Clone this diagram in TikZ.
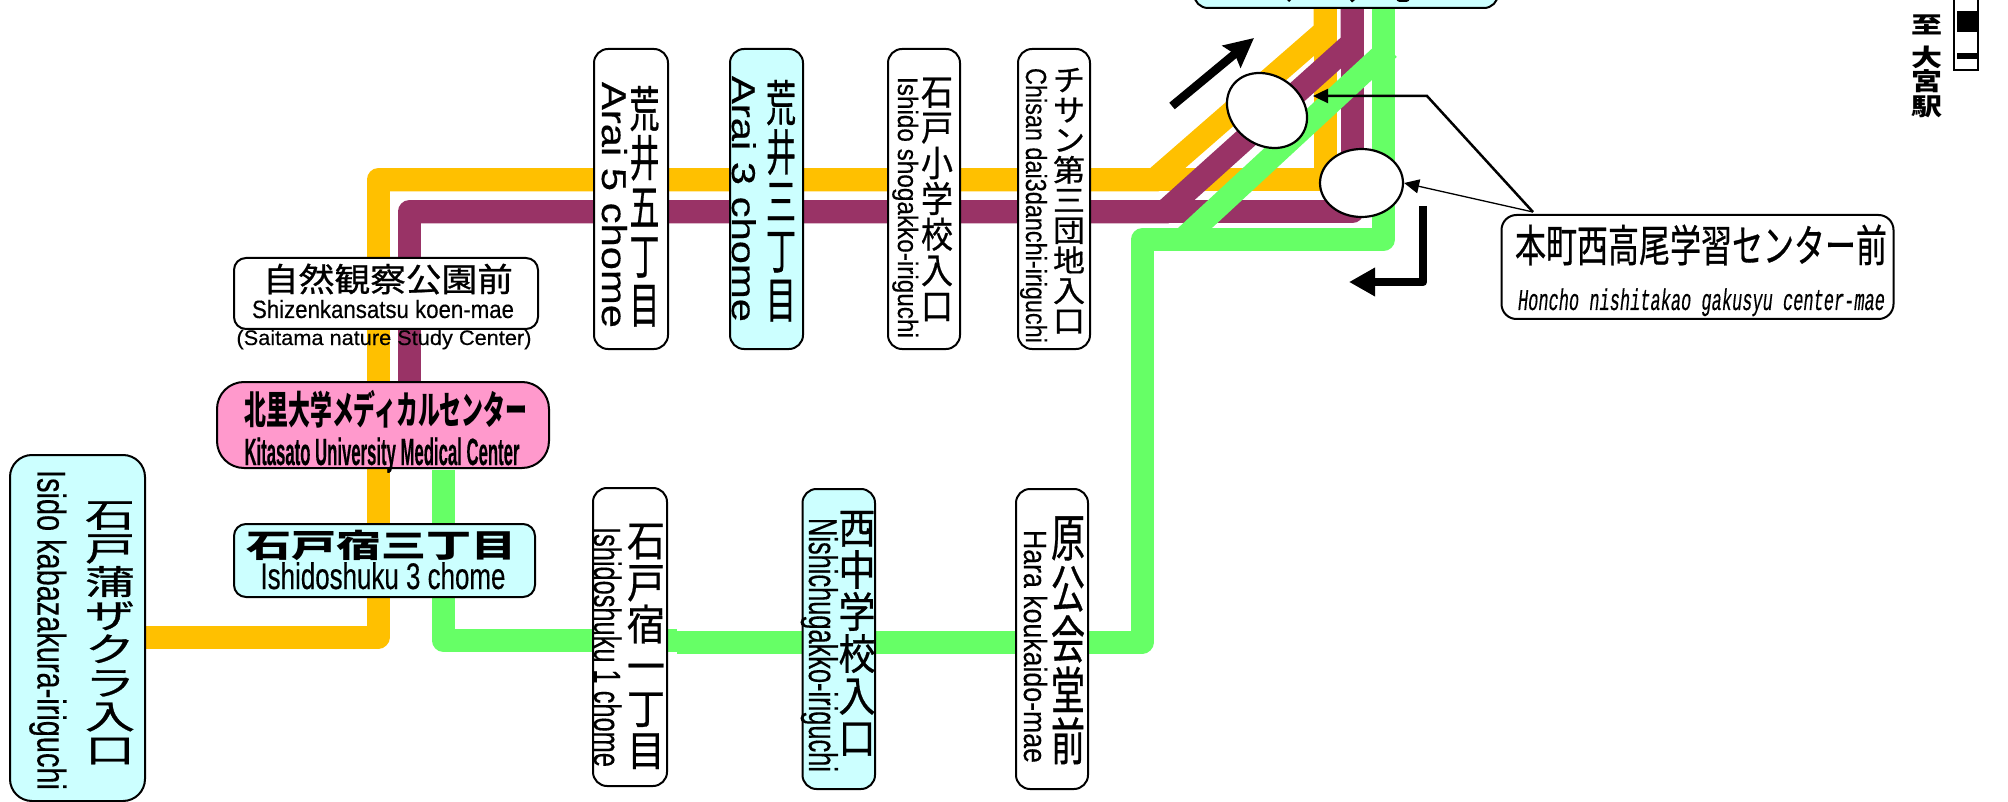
\documentclass[tikz,border=0pt]{standalone}
\usepackage{graphicx}
\usepackage{fontspec}
\setmainfont{Liberation Sans}[FakeBold=0.35]
\setmonofont{Liberation Mono}[FakeBold=0.5]
\newfontfamily\jp{Noto Sans CJK JP}[FakeBold=0.7]
\newfontfamily\jpb{Noto Sans CJK JP}
\usetikzlibrary{arrows.meta,shapes.geometric}
\definecolor{cyanbox}{HTML}{CCFFFF}
\definecolor{pinkbox}{HTML}{FF99CC}
\definecolor{lineor}{HTML}{FFC000}
\definecolor{linepl}{HTML}{993366}
\definecolor{linegr}{HTML}{66FF66}
\newcommand{\fs}[1]{\fontsize{#1}{#1}\selectfont}
\newcommand{\hz}[3]{\resizebox{#1pt}{\height}{\fs{#2}#3}}
\newcommand{\vc}[1]{\hbox to 40pt{\hss\vrule height 35.2pt depth 4.8pt width 0pt #1\hss}}
\newcommand{\vjp}[3]{\resizebox*{#1pt}{#2pt}{\jp\fs{40}\vbox{\offinterlineskip #3}}}
\newcommand{\dest}[2]{\resizebox*{31pt}{#1pt}{\jpb\bfseries\fs{40}\vc{#2}}}
\tikzset{
 stopbox/.style={draw=black,line width=2pt,rounded corners=#1,inner sep=0pt,anchor=north west},
 stopbox/.default=12pt,
 route/.style={line width=23pt,line join=round},
 knee/.style={line width=23pt,line join=miter},
 lbl/.style={inner sep=0pt,align=center},
 baselbl/.style={inner sep=0pt,anchor=base},
 vlbl/.style={inner sep=0pt,anchor=base,rotate=-90},
 jpv/.style={inner sep=0pt},
 bigarrow/.style={line width=8.5pt},
 leader/.style={draw=black,-{Triangle[length=15pt,width=14pt]}},
 oval/.style={draw=black,line width=2.2pt,fill=white,ellipse,inner sep=0pt},
}
\begin{document}
\begin{tikzpicture}[x=1pt,y=-1pt]
\useasboundingbox (0,0) rectangle (2008,802);
% route way-points
\coordinate (oa) at (145,637);
\coordinate (ob) at (378,637);
\coordinate (oc) at (378,180);
\coordinate (od) at (1154,180);
\coordinate (oe) at (1325,31);
\coordinate (of) at (1325,180);
\coordinate (og) at (1325,-20);
\coordinate (pa) at (409,400);
\coordinate (pb) at (409,212);
\coordinate (pc) at (1164,212);
\coordinate (pd) at (1352,43);
\coordinate (pe) at (1352,212);
\coordinate (pf) at (1352,-20);
\coordinate (ga) at (443,470);
\coordinate (gb) at (443,640);
\coordinate (gc) at (677,640);
\coordinate (gd) at (677,642);
\coordinate (ge) at (1142,642);
\coordinate (gf) at (1142,240);
\coordinate (gg) at (1383,240);
\coordinate (gh) at (1383,-20);
\coordinate (gi) at (1182,240);
\coordinate (gj) at (1389,48.5);
% routes
\draw[route,lineor] (oa) -- (ob) -- (oc) -- (od);
\draw[knee,lineor] (oc) -- (od) -- (oe) -- (og);
\draw[route,lineor] (od) -- (of) -- (og);
\draw[route,linepl] (pa) -- (pb) -- (pe) -- (pf);
\draw[knee,linepl] (pb) -- (pc) -- (pd) -- (pf);
\draw[route,linegr] (ga) -- (gb) -- (gc);
\draw[route,linegr] (gd) -- (ge) -- (gf) -- (gg) -- (gh);
\draw[line width=23pt,linegr] (gi) -- (gj);
% top box, cut by the page edge
\node[stopbox=14pt,fill=cyanbox,minimum width=304pt,minimum height=40pt] (topbox) at (1193,-33) {};
\fill (1287,0) -- (1291,0) -- (1289,2) -- cycle;
\fill (1350,0) -- (1355,0) -- (1352,2.5) -- cycle;
\fill[rounded corners=1pt] (1396,0) -- (1410,0) -- (1407,2) -- (1399,2) -- cycle;
% horizontal stops
\node[stopbox=12pt,fill=white,minimum width=304pt,minimum height=71pt] (shizen) at (233,257) {};
\node[lbl] (shizenj) at (388,279) {\hz{250}{33}{\jp 自然観察公園前}};
\node[baselbl] (shizenl) at (383,318) {\hz{262}{25}{Shizenkansatsu koen-mae}};
\node[baselbl] (shizene) at (384,345) {\hz{295}{21}{(Saitama nature Study Center)}};
\node[stopbox=27pt,fill=pinkbox,minimum width=332pt,minimum height=86pt] (kita) at (216,381) {};
\node[lbl] (kitaj) at (386,409) {\hz{283}{39}{\jpb\bfseries 北里大学メディカルセンター}};
\node[baselbl] (kital) at (382,465) {\hz{275}{38}{\bfseries Kitasato University Medical Center}};
\node[stopbox=12pt,fill=cyanbox,minimum width=301pt,minimum height=73pt] (ishi3) at (233,523) {};
\node[lbl] (ishi3j) at (381,545) {\hz{270}{32}{\jpb\bfseries 石戸宿三丁目}};
\node[baselbl] (ishi3l) at (383,589) {\hz{245}{37}{Ishidoshuku 3 chome}};
% vertical stops
\node[stopbox=22pt,fill=cyanbox,minimum width=135pt,minimum height=346pt] (sakura) at (9,454) {};
\node[jpv] (sakuraj) at (110,632) {\vjp{50}{269}{\vc{石}\vc{戸}\vc{蒲}\vc{ザ}\vc{ク}\vc{ラ}\vc{入}\vc{口}}};
\node[vlbl] (sakural) at (37.5,630) {\hz{320}{40}{Isido kabazakura-iriguchi}};
\node[stopbox=14pt,fill=white,minimum width=74pt,minimum height=300pt] (arai5) at (593,48) {};
\node[jpv] (arai5j) at (644.5,206.5) {\vjp{30}{245}{\vc{荒}\vc{井}\vc{五}\vc{丁}\vc{目}}};
\node[vlbl] (arai5l) at (602,205) {\hz{246}{34.5}{Arai 5 chome}};
\node[stopbox=14pt,fill=cyanbox,minimum width=73pt,minimum height=300pt] (arai3) at (729,48) {};
\node[jpv] (arai3j) at (781,201) {\vjp{30}{246}{\vc{荒}\vc{井}\vc{三}\vc{丁}\vc{目}}};
\node[vlbl] (arai3l) at (732,199) {\hz{246}{33}{Arai 3 chome}};
\node[stopbox=14pt,fill=white,minimum width=72pt,minimum height=300pt] (ishisho) at (887,48) {};
\node[jpv] (ishishoj) at (937,198.5) {\vjp{32}{250}{\vc{石}\vc{戸}\vc{小}\vc{学}\vc{校}\vc{入}\vc{口}}};
\node[vlbl] (ishishol) at (898,207.5) {\hz{261}{28}{Ishido shogakko-iriguchi}};
\node[stopbox=14pt,fill=white,minimum width=72pt,minimum height=300pt] (chisan) at (1017,48) {};
\node[jpv] (chisanj) at (1069,200) {\vjp{32}{271}{\vc{チ}\vc{サ}\vc{ン}\vc{第}\vc{三}\vc{団}\vc{地}\vc{入}\vc{口}}};
\node[vlbl] (chisanl) at (1026,205.5) {\hz{275}{29}{Chisan dai3danchi-iriguchi}};
\node[stopbox=14pt,fill=white,minimum width=74pt,minimum height=298pt] (ishi1) at (592,487) {};
\node[jpv] (ishi1j) at (646,645) {\vjp{38}{252}{\vc{石}\vc{戸}\vc{宿}\vc{一}\vc{丁}\vc{目}}};
\node[vlbl] (ishi1l) at (594,647) {\hz{240}{38}{Ishidoshuku 1 chome}};
\node[stopbox=14pt,fill=cyanbox,minimum width=72.5pt,minimum height=300pt] (nishi) at (801.5,488) {};
\node[jpv] (nishij) at (857,632.5) {\vjp{37}{252}{\vc{西}\vc{中}\vc{学}\vc{校}\vc{入}\vc{口}}};
\node[vlbl] (nishil) at (809,645) {\hz{254}{40}{Nishichugakko-iriguchi}};
\node[stopbox=14pt,fill=white,minimum width=72pt,minimum height=300pt] (hara) at (1015,488) {};
\node[jpv] (haraj) at (1068,639) {\vjp{34}{255}{\vc{原}\vc{公}\vc{会}\vc{堂}\vc{前}}};
\node[vlbl] (haral) at (1024,646.5) {\hz{233}{32}{Hara koukaido-mae}};
% ovals
\node[oval,rotate=-35.5,minimum width=85pt,minimum height=69.4pt] (eone) at (1267,110.5) {};
\node[oval,minimum width=83pt,minimum height=68pt] (etwo) at (1361.5,183) {};
% callout
\node[stopbox=15pt,fill=white,minimum width=392pt,minimum height=104pt] (honcho) at (1500.5,214) {};
\node[lbl] (honchoj) at (1701,245) {\hz{372}{44}{\jp 本町西高尾学習センター前}};
\node[baselbl] (honchol) at (1701.5,310) {\hz{367}{30}{\ttfamily\itshape Honcho nishitakao gakusyu center-mae}};
\coordinate (hj) at (1533,212);
\coordinate (hk) at (1427,96);
\coordinate (eonetip) at (1313,96);
\draw[leader,line width=2.5pt] (hj) -- (hk) -- (eonetip);
\draw[leader,line width=1.3pt] (hj) -- (etwo.east);
% direction arrows
\coordinate (aa) at (1172,106);
\coordinate (ab) at (1254,38);
\coordinate (ac) at (1423,206);
\coordinate (ad) at (1423,282);
\coordinate (ae) at (1349,282);
\draw[bigarrow,-{Stealth[length=29pt,width=28pt,inset=4pt]}] (aa) -- (ab);
\draw[bigarrow,line join=round,-{Triangle[length=26pt,width=27pt]}] (ac) -- (ad) -- (ae);
% destination
\node[lbl] (destc) at (1927,24.5) {\dest{23}{至}};
\node[lbl] (destd) at (1927,57) {\dest{24}{大}};
\node[lbl] (deste) at (1927,81.5) {\dest{24.5}{宮}};
\node[lbl] (destf) at (1927,106.5) {\dest{24}{駅}};
\draw[line width=2pt,black,fill=white] (1954,-5) rectangle (1978,70.5);
\fill[black] (1957,11) rectangle (1977,32);
\fill[black] (1957,53) rectangle (1977,59);
\end{tikzpicture}
\end{document}
